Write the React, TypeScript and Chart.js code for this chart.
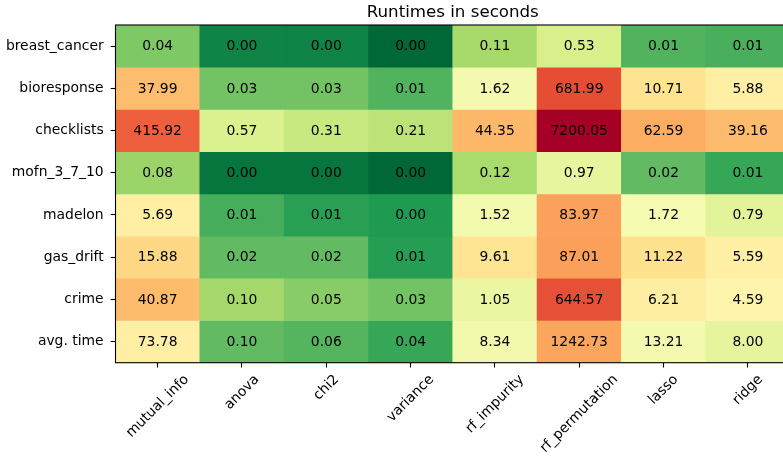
import React, { useEffect, useRef } from 'react';
import { Chart, registerables } from 'chart.js';

Chart.register(...registerables);

// Feature-selection methods (columns) and benchmark datasets (rows)
const methods = [
  'mutual_info',
  'anova',
  'chi2',
  'variance',
  'rf_impurity',
  'rf_permutation',
  'lasso',
  'ridge',
];
const datasetNames = [
  'breast_cancer',
  'bioresponse',
  'checklists',
  'mofn_3_7_10',
  'madelon',
  'gas_drift',
  'crime',
];
const avgLabel = 'avg. time';

// Runtimes in seconds, one array per dataset, in method order
const breastCancer = [0.04, 0.0023, 0.0022, 0.0009, 0.11, 0.53, 0.014, 0.012];
const bioresponse = [37.99, 0.03, 0.03, 0.014, 1.62, 681.99, 10.71, 5.88];
const checklists = [415.92, 0.57, 0.31, 0.21, 44.35, 7200.05, 62.59, 39.16];
const mofn3710 = [0.08, 0.0014, 0.0014, 0.0009, 0.12, 0.97, 0.02, 0.008];
const madelon = [5.69, 0.011, 0.006, 0.0048, 1.52, 83.97, 1.72, 0.79];
const gasDrift = [15.88, 0.02, 0.02, 0.0055, 9.61, 87.01, 11.22, 5.59];
const crime = [40.87, 0.1, 0.05, 0.03, 1.05, 644.57, 6.21, 4.59];
const avgTimes = [73.78, 0.1, 0.06, 0.04, 8.34, 1242.73, 13.21, 8.0];

const timeRows = [breastCancer, bioresponse, checklists, mofn3710, madelon, gasDrift, crime];
const rowLabels = [...datasetNames, avgLabel];

// RdYlGn control colours; sampled reversed so slow = red, fast = green
const RDYLGN: number[][] = [
  [165, 0, 38],
  [215, 48, 39],
  [244, 109, 67],
  [253, 174, 97],
  [254, 224, 139],
  [255, 255, 191],
  [217, 239, 139],
  [166, 217, 106],
  [102, 189, 99],
  [26, 152, 80],
  [0, 104, 55],
];

function rdYlGnR(t: number): string {
  const u = 1 - Math.max(0, Math.min(1, t));
  const p = u * (RDYLGN.length - 1);
  const i = Math.min(RDYLGN.length - 2, Math.floor(p));
  const f = p - i;
  const a = RDYLGN[i];
  const b = RDYLGN[i + 1];
  const c = a.map((v, k) => Math.round(v + (b[k] - v) * f));
  return `rgb(${c[0]},${c[1]},${c[2]})`;
}

// Log-scaled colour normalisation over all dataset runtimes
const allTimes = timeRows.flat();
const logMin = Math.log10(Math.min(...allTimes));
const logMax = Math.log10(Math.max(...allTimes));
const norm = (v: number) => (Math.log10(v) - logMin) / (logMax - logMin);

// The average row is shaded by the mean log-runtime of its column
const avgShade = methods.map(
  (_, c) => timeRows.reduce((s, r) => s + norm(r[c]), 0) / timeRows.length
);
const cellShade = [...timeRows.map((r) => r.map(norm)), avgShade];
const cellText = [...timeRows, avgTimes].map((r) => r.map((v) => v.toFixed(2)));

const FONT = "'DejaVu Sans', sans-serif";
const TICK_PX = 13.9;
const TITLE_PX = 16.67;
const TICK_LEN = 4.86;
const TICK_PAD = 4.86;
const LINE_W = 1.1;

const heatmapText = {
  id: 'heatmapText',
  afterDatasetsDraw(chart: any) {
    const { ctx, chartArea } = chart;
    ctx.save();
    // cell values
    ctx.font = `${TICK_PX}px ${FONT}`;
    ctx.fillStyle = '#000';
    ctx.textAlign = 'center';
    ctx.textBaseline = 'alphabetic';
    chart.data.datasets.forEach((_: any, r: number) => {
      const meta = chart.getDatasetMeta(r);
      meta.data.forEach((bar: any, c: number) => {
        const cy = (bar.y + bar.base) / 2;
        ctx.fillText(cellText[r][c], bar.x, cy + 4.3);
      });
    });

    // frame around the grid
    ctx.strokeStyle = '#000';
    ctx.lineWidth = LINE_W;
    ctx.strokeRect(
      chartArea.left,
      chartArea.top,
      chartArea.right - chartArea.left,
      chartArea.bottom - chartArea.top
    );

    // rotated method labels, centred under their ticks
    const xScale = chart.scales.x;
    ctx.font = `${TICK_PX}px ${FONT}`;
    ctx.textAlign = 'center';
    ctx.textBaseline = 'alphabetic';
    const h = TICK_PX;
    methods.forEach((label, i) => {
      const x = xScale.getPixelForTick(i);
      const w = ctx.measureText(label).width;
      const half = ((w + h) * Math.SQRT1_2) / 2;
      const cy = chartArea.bottom + TICK_LEN + TICK_PAD + half;
      ctx.save();
      ctx.translate(x, cy);
      ctx.rotate(-Math.PI / 4);
      ctx.fillText(label, 0, 3.6);
      ctx.restore();
    });

    // title over the grid
    ctx.font = `${TITLE_PX}px ${FONT}`;
    ctx.textAlign = 'center';
    ctx.textBaseline = 'alphabetic';
    ctx.fillText('Runtimes in seconds', (chartArea.left + chartArea.right) / 2, chartArea.top - 8.3);
    ctx.restore();
  },
};

export default function App() {
  const canvasRef = useRef<HTMLCanvasElement | null>(null);

  useEffect(() => {
    if (!canvasRef.current) return;
    const chart = new Chart(canvasRef.current, {
      type: 'bar',
      data: {
        labels: methods,
        datasets: rowLabels.map((name, r) => ({
          label: name,
          data: methods.map(() => [r, r + 1]),
          backgroundColor: cellShade[r].map(rdYlGnR),
          borderWidth: 0,
          grouped: false,
          categoryPercentage: 1,
          barPercentage: 1,
        })),
      } as any,
      options: {
        responsive: false,
        animation: false,
        devicePixelRatio: 1,
        events: [],
        layout: { padding: { top: 25, left: 0, right: 10, bottom: 0 } },
        plugins: {
          legend: { display: false },
          title: { display: false },
          tooltip: { enabled: false },
        },
        scales: {
          x: {
            type: 'category',
            offset: true,
            grid: {
              display: true,
              offset: false,
              drawOnChartArea: false,
              drawTicks: true,
              tickLength: TICK_LEN,
              tickWidth: LINE_W,
              tickColor: '#000',
            },
            border: { display: false },
            ticks: { display: false },
            afterFit: (s: any) => {
              s.height = 99.3;
            },
          },
          y: {
            type: 'linear',
            min: 0,
            max: rowLabels.length,
            reverse: true,
            afterBuildTicks: (s: any) => {
              s.ticks = rowLabels.map((_, i) => ({ value: i + 0.5 }));
            },
            grid: {
              display: true,
              drawOnChartArea: false,
              drawTicks: true,
              tickLength: TICK_LEN,
              tickWidth: LINE_W,
              tickColor: '#000',
            },
            border: { display: false },
            ticks: {
              autoSkip: false,
              padding: 7,
              color: '#000',
              font: { family: FONT, size: TICK_PX },
              callback: (v: any) => rowLabels[Math.floor(Number(v))],
            },
            afterFit: (s: any) => {
              s.width = 115.5;
            },
          },
        },
      } as any,
      plugins: [heatmapText],
    });
    return () => chart.destroy();
  }, []);

  return (
    <div
      style={{
        position: 'fixed',
        left: 0,
        top: 0,
        width: 783,
        height: 462,
        overflow: 'hidden',
        background: '#fff',
      }}
    >
      <canvas ref={canvasRef} width={800} height={462} style={{ display: 'block' }} />
    </div>
  );
}
